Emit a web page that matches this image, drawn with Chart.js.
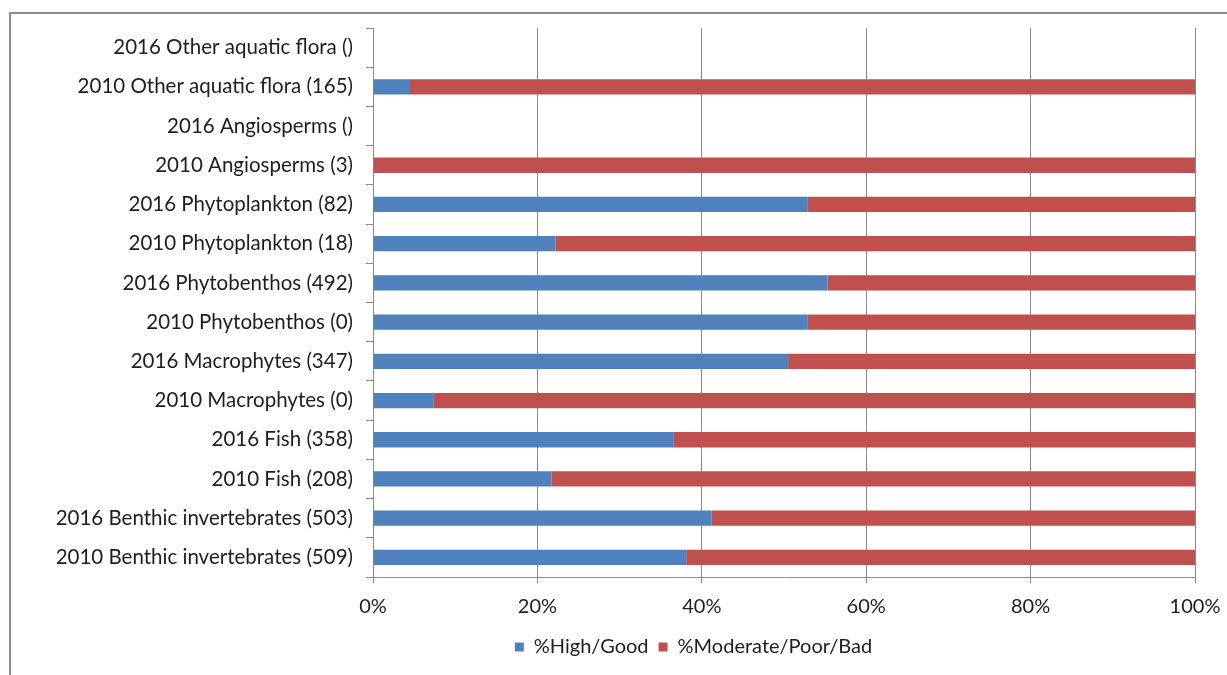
<!DOCTYPE html>
<html>
<head>
<meta charset="utf-8">
<title>Ecological status by biological quality element, 2010 vs 2016</title>
<script src="https://cdn.jsdelivr.net/npm/chart.js@4.4.1/dist/chart.umd.min.js"></script>
<style>
  html, body { margin: 0; padding: 0; background: #fff; }
  #wrap { position: relative; width: 1227px; height: 675px; overflow: hidden; }
  #frame { position: absolute; left: 9px; top: 12px; width: 1240px; height: 700px;
           border-left: 2px solid #8c8c8c; border-top: 2px solid #8c8c8c; }
  #c { position: absolute; left: 0; top: 0; }
</style>
</head>
<body>
<div id="wrap">
  <div id="frame"></div>
  <canvas id="c" width="1227" height="675"></canvas>
</div>
<script>
// Categories, listed top to bottom
const categories = [
  "2016 Other aquatic flora ()",
  "2010 Other aquatic flora (165)",
  "2016 Angiosperms ()",
  "2010 Angiosperms (3)",
  "2016 Phytoplankton (82)",
  "2010 Phytoplankton (18)",
  "2016 Phytobenthos (492)",
  "2010 Phytobenthos (0)",
  "2016 Macrophytes (347)",
  "2010 Macrophytes (0)",
  "2016 Fish (358)",
  "2010 Fish (208)",
  "2016 Benthic invertebrates (503)",
  "2010 Benthic invertebrates (509)"
];

// Share of water bodies (%) in each status class
const highGood = [null, 4.5, null, 0, 52.9, 22.2, 55.3, 52.9, 50.5, 7.4, 36.6, 21.7, 41.2, 38.1];
const moderatePoorBad = [null, 95.5, null, 100, 47.1, 77.8, 44.7, 47.1, 49.5, 92.6, 63.4, 78.3, 58.8, 61.9];

const seriesNames = ["%High/Good", "%Moderate/Poor/Bad"];
const xTicks = [0, 20, 40, 60, 80, 100];

const FONT = "Lato, 'Open Sans', sans-serif";
const TEXT = "#1e1e1e";
const GRID = "#8a8a8a";

// Moves the legend row to the right so it sits between the labels and the plot centre
const legendShift = {
  id: "legendShift",
  afterLayout(chart) {
    const lg = chart.legend;
    if (lg) { lg.left += 96; lg.right += 96; }
  }
};

new Chart(document.getElementById("c"), {
  type: "bar",
  data: {
    labels: categories,
    datasets: [
      { label: seriesNames[0], data: highGood, backgroundColor: "#4F81BD",
        barPercentage: 0.39, categoryPercentage: 1.0 },
      { label: seriesNames[1], data: moderatePoorBad, backgroundColor: "#C0504D",
        barPercentage: 0.39, categoryPercentage: 1.0 }
    ]
  },
  plugins: [legendShift],
  options: {
    indexAxis: "y",
    responsive: false,
    animation: false,
    layout: { padding: { top: 28, right: 32, left: 0, bottom: 8 } },
    plugins: {
      tooltip: { enabled: false },
      legend: {
        position: "bottom",
        labels: {
          font: { family: FONT, size: 20 },
          color: TEXT,
          boxWidth: 9, boxHeight: 9, padding: 10
        }
      }
    },
    scales: {
      x: {
        stacked: true,
        min: 0, max: 100,
        afterBuildTicks: s => { s.ticks = xTicks.map(v => ({ value: v })); },
        afterFit: s => { s.height = 50; s.paddingLeft = 0; s.paddingRight = 0; },
        ticks: {
          callback: v => v + "%",
          font: { family: FONT, size: 20 },
          color: TEXT,
          padding: 12,
          maxRotation: 0
        },
        grid: { color: GRID, lineWidth: 1, tickLength: 6, drawTicks: true },
        border: { color: GRID, width: 1 }
      },
      y: {
        stacked: true,
        afterFit: s => { s.width = 373; },
        ticks: {
          font: { family: FONT, size: 20.5 },
          color: TEXT,
          padding: 13,
          autoSkip: false
        },
        grid: { offset: true, drawOnChartArea: false, drawTicks: true, tickLength: 7, color: GRID },
        border: { color: GRID, width: 1 }
      }
    }
  }
});
</script>
</body>
</html>
